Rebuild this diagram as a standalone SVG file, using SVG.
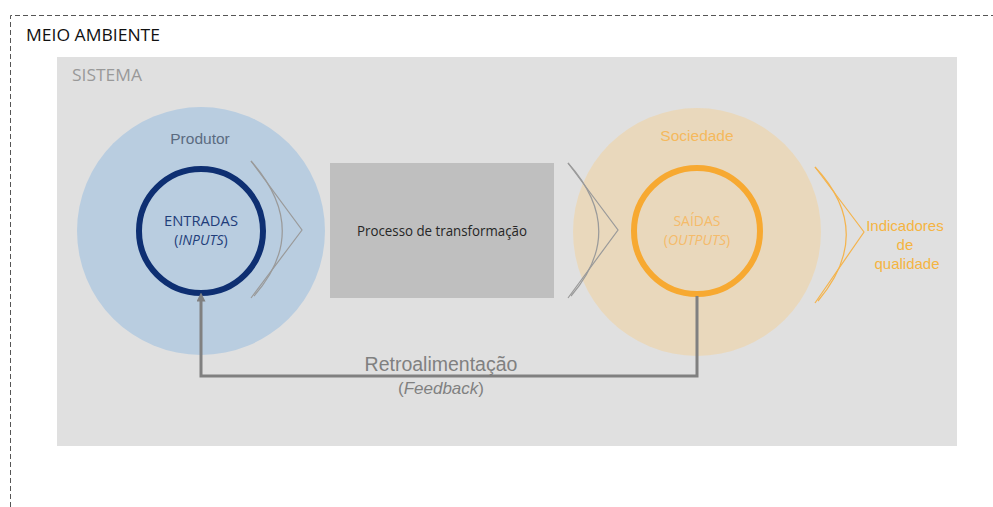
<svg xmlns="http://www.w3.org/2000/svg" width="993" height="507" viewBox="0 0 993 507">
  <style>
    .sans { font-family: "Liberation Sans", Arial, sans-serif; }
    .cal { font-family: "Open Sans", "Liberation Sans", sans-serif; }
    .chev { fill: none; stroke-width: 1.2; }
    .grey { stroke: #9a9a9a; }
    .amber { stroke: #f4b44e; }
  </style>
  <defs>
    <marker id="arrow" viewBox="0 0 10 10" refX="5" refY="5" markerWidth="3" markerHeight="3" orient="auto-start-reverse">
      <path d="M0,0 L10,5 L0,10 z" fill="#808080"/>
    </marker>
  </defs>

  <rect width="993" height="507" fill="#ffffff"/>

  <!-- environment boundary -->
  <g id="meio-ambiente">
    <path d="M10.5,507 V15.5 H993" fill="none" stroke="#555555" stroke-width="1" stroke-dasharray="5,3"/>
    <text x="26" y="41" class="cal" font-size="16" fill="#111111" textLength="134" lengthAdjust="spacingAndGlyphs">MEIO AMBIENTE</text>
  </g>

  <!-- system area -->
  <g id="sistema">
    <rect x="57" y="57" width="900" height="389" fill="#e0e0e0"/>
    <text x="72" y="81" class="cal" font-size="15.5" fill="#999999" textLength="70" lengthAdjust="spacingAndGlyphs">SISTEMA</text>
  </g>

  <!-- producer / inputs -->
  <g id="produtor">
    <circle cx="201" cy="231" r="124" fill="#b9cde0"/>
    <text x="200" y="144" class="sans" font-size="15.5" fill="#5b6b80" text-anchor="middle">Produtor</text>
  </g>
  <g id="entradas">
    <circle cx="201" cy="231" r="62" fill="none" stroke="#0e2f72" stroke-width="6"/>
    <text x="201" y="226" class="cal" font-size="14" fill="#1f3d7a" text-anchor="middle" textLength="74" lengthAdjust="spacingAndGlyphs">ENTRADAS</text>
    <text x="201" y="245" class="cal" font-size="14" fill="#1f3d7a" text-anchor="middle">(<tspan font-style="italic">INPUTS</tspan>)</text>
  </g>

  <!-- transformation -->
  <g id="processo">
    <rect x="330" y="163" width="224" height="135" fill="#bfbfbf"/>
    <text x="442" y="236" class="cal" font-size="14" fill="#262626" text-anchor="middle" textLength="170" lengthAdjust="spacingAndGlyphs">Processo de transformação</text>
  </g>

  <!-- society / outputs -->
  <g id="sociedade">
    <circle cx="697" cy="232" r="124" fill="#e9d8bc"/>
    <text x="697" y="141" class="sans" font-size="15.5" fill="#f5b95c" text-anchor="middle">Sociedade</text>
  </g>
  <g id="saidas">
    <circle cx="697" cy="231" r="63" fill="none" stroke="#f7a931" stroke-width="6"/>
    <text x="697" y="226" class="cal" font-size="14" fill="#f5bb6a" text-anchor="middle">SAÍDAS</text>
    <text x="697" y="245" class="cal" font-size="14" fill="#f5bb6a" text-anchor="middle">(<tspan font-style="italic">OUTPUTS</tspan>)</text>
  </g>

  <!-- quality indicators -->
  <g id="indicadores">
    <text class="sans" font-size="15" fill="#f5b442" text-anchor="middle">
      <tspan x="907" y="231">Indicadores</tspan>
      <tspan x="907" y="250">de</tspan>
      <tspan x="907" y="269">qualidade</tspan>
    </text>
  </g>

  <!-- connectors -->
  <g id="connectors">
    <g class="chev grey">
      <path d="M251,161 L302,230 L251,298"/>
      <path d="M251,161 Q312,230 254,296"/>
      <path d="M568,163 L618,230 L568,298"/>
      <path d="M568,163 Q628,230 571,296"/>
    </g>
    <g class="chev amber">
      <path d="M815,167 L864,232 L815,303"/>
      <path d="M815,167 Q876,232 818,301"/>
    </g>
    <path d="M697,296 V376 H201 V297" fill="none" stroke="#808080" stroke-width="3" marker-end="url(#arrow)"/>
    <text x="441" y="371" class="sans" font-size="19.5" fill="#808080" text-anchor="middle">Retroalimentação</text>
    <text x="441" y="394" class="sans" font-size="17" fill="#808080" text-anchor="middle">(<tspan font-style="italic">Feedback</tspan>)</text>
  </g>
</svg>
